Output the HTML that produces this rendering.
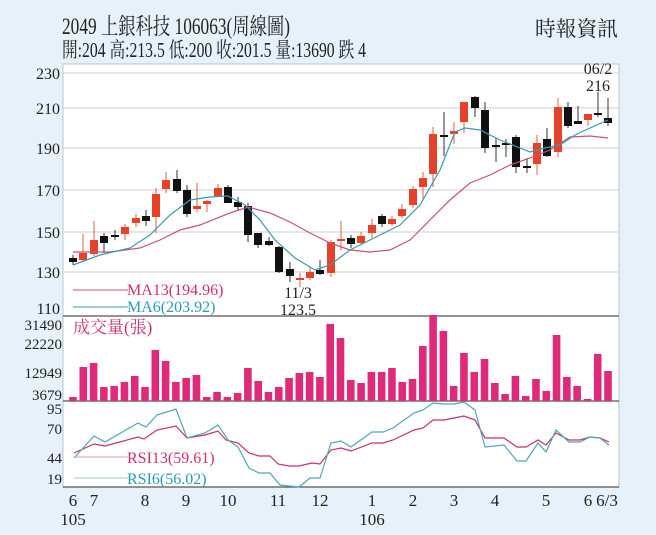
<!DOCTYPE html>
<html><head><meta charset="utf-8">
<style>
html,body{margin:0;padding:0;background:#e7f1f9;}
svg{display:block;}
text{font-family:"Liberation Serif","Noto Serif CJK SC","Noto Sans CJK TC",serif;}
</style></head>
<body>
<svg id="s" width="656" height="535" viewBox="0 0 656 535" xmlns="http://www.w3.org/2000/svg">
<rect x="0" y="0" width="656" height="535" fill="#e7f1f9"/>
<rect x="63" y="64" width="556" height="423" fill="#ffffff" stroke="#b8c4cc" stroke-width="1"/>
<text x="62" y="34" font-size="23" fill="#222" textLength="228" lengthAdjust="spacingAndGlyphs">2049 上銀科技 106063(周線圖)</text>
<text x="62" y="57" font-size="21" fill="#222" textLength="304" lengthAdjust="spacingAndGlyphs">開:204 高:213.5 低:200 收:201.5 量:13690 跌 4</text>
<text x="535" y="36" font-size="21" fill="#222" textLength="83" lengthAdjust="spacingAndGlyphs">時報資訊</text>
<g id="g"></g>
</svg>
<script>
var g=document.getElementById('g'),NS='http://www.w3.org/2000/svg';
function el(t,a,txt){var e=document.createElementNS(NS,t);for(var k in a)e.setAttribute(k,a[k]);if(txt!==undefined)e.textContent=txt;g.appendChild(e);return e;}
[[230,73],[210,108],[190,148],[170,190],[150,232],[130,272]].forEach(function(p){
 el('line',{x1:63,x2:619,y1:p[1],y2:p[1],stroke:'#d4d8dc','stroke-width':1.2});
 el('text',{x:60,y:p[1]+6,'font-size':16,'text-anchor':'end',fill:'#222'},p[0]);
});
el('text',{x:60,y:314,'font-size':16,'text-anchor':'end',fill:'#222'},'110');
el('line',{x1:63,x2:619,y1:316,y2:316,stroke:'#555','stroke-width':1.2});
el('line',{x1:63,x2:619,y1:401,y2:401,stroke:'#555','stroke-width':1.2});
el('line',{x1:63,x2:619,y1:487,y2:487,stroke:'#555','stroke-width':1.2});
var C=[[73,258,262,255,265,0],[83,253,260,234,262,1],[94,240,254,221,256,1],[104,236,243,233,253,0],[115,235,235,230,240,0],[125,227,234,224,240,1],[136,218,223,214,227,1],[146,216,221,210,226,0],[156,194,217,188,233,1],[166,180,189,172,193,1],[177,179,191,170,193,0],[187,190,214,185,217,0],[197,206,209,183,212,1],[207,201,204,200,212,1],[218,188,196,184,197,1],[228,187,203,185,203,0],[238,202,207,197,210,0],[248,206,235,203,242,0],[258,233,245,233,248,0],[269,241,245,237,246,0],[279,247,272,246,273,0],[290,269,276,262,282,0],[300,278,279,273,287,1],[310,272,278,267,280,1],[320,270,274,260,275,0],[331,242,273,240,277,1],[341,239,239,221,250,1],[351,238,244,235,248,0],[361,236,243,232,245,1],[372,225,233,219,238,1],[382,216,224,214,227,0],[392,219,224,216,226,1],[402,209,216,204,218,1],[413,189,205,186,208,1],[423,178,187,172,199,1],[433,134,174,127,187,1],[444,135,135,112,156,0],[454,131,134,122,144,1],[464,102,122,102,133,1],[475,97,108,96,117,0],[485,110,148,102,153,0],[496,145,145,138,162,0],[506,143,143,139,157,0],[516,137,167,135,173,0],[527,166,166,158,173,0],[537,143,164,135,175,1],[547,139,156,128,157,0],[558,107,152,98,157,1],[568,107,126,102,128,0],[578,121,124,106,124,0],[588,114,120,114,126,1],[598,113,113,92,117,0],[608,118,123,98,126,0]];
C.forEach(function(c){var col=c[5]?'#e4432a':'#111';
 el('line',{x1:c[0],x2:c[0],y1:c[3],y2:c[4],stroke:c[5]?'#e06040':'#333','stroke-width':1});
 var h=Math.max(c[2]-c[1],2);el('rect',{x:c[0]-4,y:c[1],width:8,height:h,fill:col});});
function pl(pts,col,w){el('polyline',{points:pts.map(function(p){return p.join(',')}).join(' '),fill:'none',stroke:col,'stroke-width':w||1.2});}
pl([[73,252],[110,252],[140,248],[160,240],[180,230],[200,225],[230,213],[248,207],[270,213],[290,222],[310,233],[330,243],[350,250],[370,252],[390,250],[410,240],[430,220],[450,200],[470,183],[490,175],[510,165],[530,158],[550,150],[570,137],[590,136],[608,138]],'#c8507a');
pl([[73,265],[100,255],[130,248],[150,235],[170,215],[190,200],[210,197],[228,196],[245,205],[260,220],[275,240],[295,258],[315,270],[330,265],[350,250],[380,235],[400,225],[420,205],[440,170],[455,132],[465,128],[480,130],[500,140],[520,148],[530,152],[545,148],[560,145],[575,135],[590,128],[608,120]],'#3a9ab0');
el('line',{x1:73,x2:128,y1:290,y2:290,stroke:'#c8507a'});
el('line',{x1:73,x2:128,y1:307,y2:307,stroke:'#3a9ab0'});
el('text',{x:127,y:295,'font-size':16,fill:'#d0306a'},'MA13(194.96)');
el('text',{x:127,y:312,'font-size':16,fill:'#2a9ab8'},'MA6(203.92)');
el('text',{x:298,y:298,'font-size':16,'text-anchor':'middle',fill:'#222'},'11/3');
el('text',{x:298,y:315,'font-size':16,'text-anchor':'middle',fill:'#222'},'123.5');
el('text',{x:598,y:74,'font-size':16,'text-anchor':'middle',fill:'#222'},'06/2');
el('text',{x:598,y:91,'font-size':16,'text-anchor':'middle',fill:'#222'},'216');
[['31490',325],['22220',344],['12949',373],['3679',395]].forEach(function(p){el('text',{x:62,y:p[1]+5,'font-size':15,'text-anchor':'end',fill:'#222'},p[0]);});
var V=[397,367,363,387,386,382,376,387,350,361,382,378,375,397,392,397,393,368,381,392,387,378,373,372,377,324,338,380,383,372,372,368,382,379,346,315,331,386,353,372,359,383,394,376,396,379,391,335,377,386,399,354,371];
V.forEach(function(v,i){var x=73+i*(535/52);el('rect',{x:x-3.8,y:v,width:7.6,height:401-v,fill:'#df2a7a'});});
el('text',{x:73,y:333,'font-size':17,fill:'#d0306a'},'成交量(張)');
[['95',409],['70',429],['44',458],['19',479]].forEach(function(p){el('text',{x:62,y:p[1]+5,'font-size':15,'text-anchor':'end',fill:'#222'},p[0]);});
pl([[74,453],[94,444],[105,446],[138,437],[144,439],[157,430],[176,426],[187,438],[205,435],[218,431],[226,440],[238,443],[249,453],[259,456],[270,456],[278,464],[289,466],[299,466],[312,463],[320,464],[331,450],[341,448],[351,451],[372,443],[383,443],[393,440],[414,430],[423,428],[433,420],[444,420],[454,418],[464,416],[475,420],[485,438],[504,438],[517,447],[526,447],[538,440],[546,445],[556,433],[569,440],[580,440],[590,437],[600,438],[609,442]],'#c8306a');
pl([[74,458],[94,436],[105,442],[138,423],[146,427],[157,415],[176,409],[187,438],[205,433],[218,425],[228,440],[238,447],[249,468],[259,473],[270,473],[280,485],[289,486],[299,487],[310,478],[320,478],[331,443],[341,441],[351,447],[372,432],[383,432],[393,428],[414,413],[423,410],[433,403],[444,404],[454,404],[464,402],[475,410],[485,447],[504,445],[517,461],[526,461],[538,443],[546,452],[556,430],[569,442],[580,442],[590,437],[600,438],[609,445]],'#4aa8b8');
el('line',{x1:74,x2:128,y1:457,y2:457,stroke:'#d8a0b8'});
el('line',{x1:74,x2:128,y1:478,y2:478,stroke:'#a0c8d0'});
el('text',{x:127,y:463,'font-size':16,fill:'#d0306a'},'RSI13(59.61)');
el('text',{x:127,y:484,'font-size':16,fill:'#2a9ab8'},'RSI6(56.02)');
[['6',73],['7',94],['8',145],['9',186],['10',228],['11',278],['12',320],['1',372],['2',413],['3',454],['4',495],['5',546],['6',588],['6/3',607]].forEach(function(p){el('text',{x:p[1],y:506,'font-size':17,'text-anchor':'middle',fill:'#222'},p[0]);});
el('text',{x:73,y:525,'font-size':17,'text-anchor':'middle',fill:'#222'},'105');
el('text',{x:372,y:525,'font-size':17,'text-anchor':'middle',fill:'#222'},'106');
</script>
</body></html>
